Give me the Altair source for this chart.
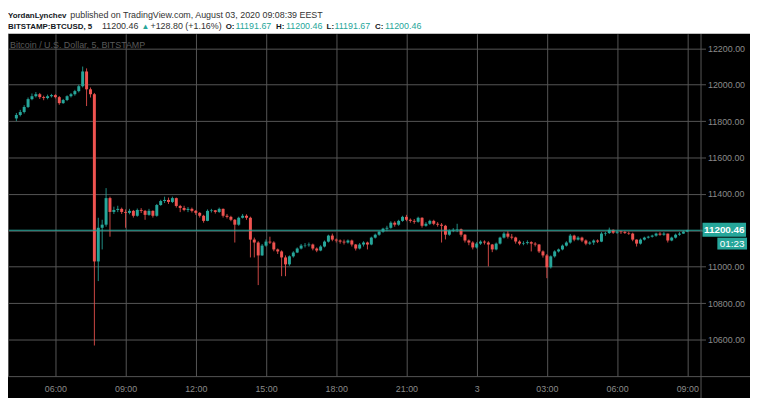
import altair as alt
import numpy as np
import pandas as pd

# ---------------- data (10-minute candles) ----------------
start_time = "2020-08-02 04:20"
first_open = 11815
closes = [
    11834, 11850, 11878, 11921, 11937, 11948, 11932, 11927, 11937, 11943,
    11932, 11899, 11916, 11937, 11948, 11965, 11992, 12073, 11975, 11948,
    11029, 11214, 11231, 11377, 11301, 11312, 11318, 11301, 11296, 11307,
    11280, 11312, 11307, 11285, 11307, 11280, 11339, 11361, 11367, 11356,
    11377, 11334, 11323, 11312, 11318, 11307, 11296, 11280, 11252, 11307,
    11310, 11301, 11318, 11280, 11274, 11258, 11231, 11269, 11280, 11269,
    11149, 11133, 11062, 11116, 11138, 11133, 11095, 11084, 11051, 11013,
    11057, 11078, 11100, 11116, 11118, 11122, 11100, 11089, 11111, 11138,
    11171, 11149, 11144, 11138, 11133, 11144, 11122, 11100, 11122, 11133,
    11122, 11160, 11176, 11193, 11209, 11214, 11242, 11231, 11252, 11274,
    11258, 11252, 11247, 11269, 11225, 11236, 11252, 11236, 11231, 11225,
    11176, 11198, 11203, 11206, 11176, 11144, 11133, 11106, 11127, 11138,
    11133, 11122, 11095, 11127, 11160, 11182, 11165, 11160, 11138, 11127,
    11130, 11135, 11127, 11122, 11084, 11062, 10997, 11057, 11084, 11095,
    11116, 11133, 11171, 11149, 11160, 11144, 11127, 11133, 11144, 11138,
    11182, 11185, 11203, 11187, 11193, 11190, 11185, 11182, 11149, 11127,
    11149, 11160, 11165, 11171, 11182, 11176, 11182, 11144, 11160, 11176,
    11182, 11193, 11200.46,
]
highs = [
    11845, 11862, 11888, 11930, 11952, 11960, 11955, 11940, 11946, 11950,
    11948, 11938, 11922, 11942, 11955, 11972, 12000, 12100, 12090, 11985,
    11955, 11269, 11258, 11432, 11385, 11330, 11335, 11325, 11315, 11318,
    11312, 11320, 11322, 11312, 11318, 11310, 11345, 11368, 11385, 11380,
    11385, 11380, 11340, 11335, 11328, 11325, 11312, 11300, 11285, 11315,
    11318, 11312, 11325, 11320, 11290, 11280, 11262, 11275, 11290, 11288,
    11275, 11160, 11140, 11125, 11150, 11165, 11140, 11100, 11090, 11062,
    11062, 11085, 11106, 11125, 11130, 11133, 11127, 11106, 11118, 11144,
    11176, 11182, 11155, 11150, 11149, 11150, 11149, 11125, 11130, 11140,
    11138, 11165, 11182, 11198, 11214, 11225, 11250, 11250, 11258, 11280,
    11285, 11265, 11262, 11275, 11272, 11245, 11258, 11258, 11245, 11240,
    11230, 11205, 11212, 11236, 11210, 11180, 11150, 11140, 11135, 11145,
    11145, 11140, 11125, 11133, 11165, 11190, 11195, 11180, 11165, 11145,
    11140, 11145, 11140, 11135, 11125, 11090, 11070, 11062, 11090, 11100,
    11122, 11140, 11180, 11176, 11168, 11165, 11150, 11140, 11150, 11150,
    11190, 11192, 11215, 11205, 11198, 11200, 11198, 11193, 11187, 11150,
    11155, 11165, 11170, 11176, 11187, 11190, 11190, 11182, 11165, 11182,
    11190, 11198, 11203,
]
lows = [
    11800, 11826, 11842, 11872, 11915, 11930, 11922, 11915, 11920, 11930,
    11925, 11890, 11895, 11910, 11930, 11940, 11958, 11985, 11883, 11930,
    10567, 10921, 11095, 11220, 11165, 11290, 11300, 11290, 11214, 11288,
    11270, 11275, 11295, 11258, 11280, 11270, 11275, 11335, 11350, 11345,
    11350, 11325, 11300, 11305, 11300, 11298, 11285, 11270, 11242, 11250,
    11298, 11292, 11296, 11270, 11265, 11250, 11133, 11225, 11265, 11258,
    11051, 11051, 10899, 11060, 11110, 11125, 11085, 11070, 10948, 10948,
    11005, 11050, 11075, 11095, 11106, 11110, 11090, 11080, 11085, 11106,
    11133, 11140, 11133, 11127, 11122, 11127, 11111, 11089, 11095, 11111,
    11095, 11118, 11155, 11170, 11187, 11195, 11209, 11220, 11225, 11247,
    11250, 11242, 11236, 11242, 11215, 11220, 11230, 11228, 11220, 11133,
    11150, 11170, 11190, 11190, 11165, 11133, 11118, 11095, 11100, 11120,
    11122, 11002, 11080, 11090, 11122, 11155, 11155, 11150, 11127, 11118,
    11118, 11122, 11084, 11111, 11075, 11050, 10937, 10990, 11050, 11078,
    11090, 11111, 11127, 11140, 11144, 11135, 11118, 11120, 11120, 11130,
    11135, 11170, 11180, 11180, 11180, 11180, 11180, 11175, 11140, 11111,
    11122, 11144, 11155, 11160, 11165, 11170, 11170, 11133, 11140, 11155,
    11170, 11180, 11190,
]
price_ticks = [10600, 10800, 11000, 11200, 11400, 11600, 11800, 12000, 12200]
time_ticks = [360, 540, 720, 900, 1080, 1260, 1440, 1620, 1800, 1980]
last_price = 11200.46
countdown = "01:23"
chart_title = "Bitcoin / U.S. Dollar, 5, BITSTAMP"

# ---------------- table ----------------
times = pd.date_range(start_time, periods=len(closes), freq="10min")
minutes = (times - pd.Timestamp("2020-08-02")).total_seconds() / 60
opens = [first_open] + closes[:-1]
df = pd.DataFrame({"t": minutes, "open": opens, "close": closes, "high": highs, "low": lows})
df["dir"] = np.where(df["close"] >= df["open"], "up", "down")

# ---------------- styling ----------------
FONT = "Liberation Sans"
UP = "#26a69a"
DOWN = "#ef5350"
GRID = "#565656"
LABEL = "#8a8a8a"
W, H = 700, 346
XDOM = [251.25, 2001.25]
YDOM = [10398.7, 12279.9]

xs = alt.Scale(domain=XDOM, nice=False, zero=False)
ys = alt.Scale(domain=YDOM, nice=False, zero=False)
x_axis = alt.Axis(
    values=time_ticks, title=None, grid=True, gridColor=GRID, gridWidth=1,
    ticks=False, domain=False, labelColor=LABEL, labelFont=FONT, labelFontSize=9,
    labelPadding=9,
    labelExpr="datum.value == 1440 ? '3' : timeFormat(datetime(2020, 7, 2, 0, datum.value), '%H:%M')",
)
y_axis = alt.Axis(
    orient="right", values=price_ticks, title=None, grid=True,
    gridColor=GRID, gridWidth=1, tickColor=GRID, tickSize=5, domain=False,
    labelPadding=2, labelColor=LABEL, labelFont=FONT, labelFontSize=9,
    labelExpr=f"abs(datum.value - {last_price}) < 30 ? '' : format(datum.value, '.2f')",
)
color = alt.Color("dir:N", scale=alt.Scale(domain=["up", "down"], range=[UP, DOWN]), legend=None)

base = alt.Chart(df).encode(x=alt.X("t:Q", scale=xs, axis=x_axis), color=color)
wicks = base.mark_rule(strokeWidth=1, opacity=0.85).encode(
    y=alt.Y("low:Q", scale=ys, axis=y_axis), y2="high:Q"
)
bodies = base.mark_bar(size=3).encode(
    y=alt.Y("open:Q", scale=ys, axis=y_axis), y2="close:Q"
)

one = pd.DataFrame({"p": [last_price]})
price_line = alt.Chart(one).mark_rule(color=UP, strokeWidth=1).encode(
    y=alt.Y("p:Q", scale=ys, axis=y_axis), x=alt.value(0), x2=alt.value(702)
)
py = (YDOM[1] - last_price) / (YDOM[1] - YDOM[0]) * H
tag_rect = alt.Chart(one).mark_rect(color=UP).encode(
    x=alt.value(702), x2=alt.value(746), y=alt.value(py - 7.5), y2=alt.value(py + 6.5)
)
tag_text = alt.Chart(one).mark_text(
    color="white", font=FONT, fontSize=10, fontWeight="bold", align="center", baseline="middle"
).encode(x=alt.value(724), y=alt.value(py), text=alt.value(f"{last_price:.2f}"))
cd_rect = alt.Chart(one).mark_rect(color=UP).encode(
    x=alt.value(717), x2=alt.value(747), y=alt.value(py + 7.5), y2=alt.value(py + 19.5)
)
cd_text = alt.Chart(one).mark_text(
    color="white", font=FONT, fontSize=10, align="center", baseline="middle"
).encode(x=alt.value(732), y=alt.value(py + 13.5), text=alt.value(countdown))


def rule(x, x2, y, y2, col=GRID):
    return alt.Chart(one).mark_rule(color=col, strokeWidth=1).encode(
        x=alt.value(x), x2=alt.value(x2), y=alt.value(y), y2=alt.value(y2)
    )


borders = [
    rule(0.5, 0.5, 0, H),
    rule(700.5, 700.5, 0, 370),
    rule(0, 752, H + 0.5, H + 0.5),
]

header_bg = alt.Chart(one).mark_rect(color="white").encode(
    x=alt.value(-10), x2=alt.value(760), y=alt.value(-30), y2=alt.value(0)
)


def txt(s, x, y, size=9, bold=False, col="#333333"):
    return alt.Chart(one).mark_text(
        align="left", baseline="alphabetic", font=FONT, fontSize=size,
        fontWeight="bold" if bold else "normal", color=col,
    ).encode(x=alt.value(x), y=alt.value(y), text=alt.value(s))


DARK = "#131722"
header = [
    txt("YordanLynchev", 0, -16, 8, True, DARK),
    txt("published on TradingView.com, August 03, 2020 09:08:39 EEST", 63, -16, 9, False, "#333333"),
    txt("BITSTAMP:BTCUSD, 5", 0, -5, 8, True, DARK),
    txt("11200.46", 95, -5, 9, False, "#333333"),
    txt("▲", 135, -5, 8, False, UP),
    txt("+128.80 (+1.16%)", 144, -5, 9, False, "#333333"),
    txt("O:", 220, -5, 8, True, DARK),
    txt("11191.67", 230, -5, 9, False, UP),
    txt("H:", 271, -5, 8, True, DARK),
    txt("11200.46", 281, -5, 9, False, UP),
    txt("L:", 322, -5, 8, True, DARK),
    txt("11191.67", 330, -5, 9, False, UP),
    txt("C:", 371, -5, 8, True, DARK),
    txt("11200.46", 381, -5, 9, False, UP),
]
title_txt = alt.Chart(one).mark_text(
    align="left", baseline="middle", font=FONT, fontSize=9, color="#5a5a5a"
).encode(x=alt.value(2), y=alt.value(11), text=alt.value(chart_title))

chart = alt.layer(
    wicks, bodies, price_line, *borders, tag_rect, tag_text, cd_rect, cd_text,
    title_txt, header_bg, *header,
).properties(
    width=W, height=H,
    autosize=alt.AutoSizeParams(type="none"),
    padding={"left": 0, "top": 24, "right": 50, "bottom": 20},
    background="black",
).configure_view(stroke=None)

chart.save("out.html", embed_options={"renderer": "svg", "actions": False})
